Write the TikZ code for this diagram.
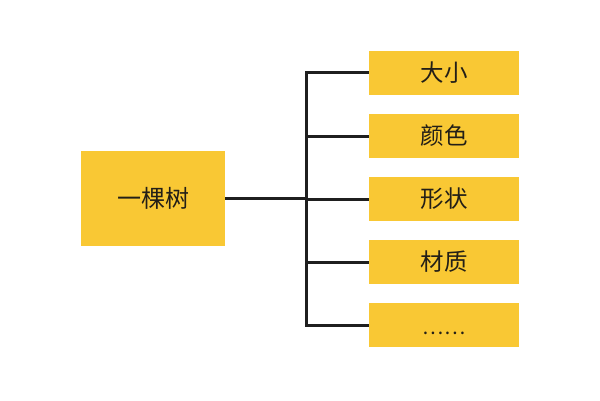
\documentclass[tikz,border=0pt]{standalone}
\usepackage{fontspec}
\newfontfamily\cjk{Noto Sans CJK SC}
\definecolor{boxyellow}{HTML}{F9C834}
\definecolor{txt}{HTML}{231F17}
\tikzset{
  box/.style={fill=boxyellow, draw=none, inner sep=0pt, font=\cjk, text=txt},
  mainbox/.style={box, minimum width=144pt, minimum height=95pt, font=\cjk\fontsize{24}{28}\selectfont},
  itembox/.style={box, minimum width=150pt, minimum height=44pt, font=\cjk\fontsize{23.5}{26}\selectfont},
  link/.style={draw=black!88, line width=3pt}
}
\begin{document}
\begin{tikzpicture}[x=1pt,y=1pt]
\useasboundingbox (0,0) rectangle (600,-400);
\node[mainbox] (main) at (153,-198.5) {一棵树};
\node[itembox] (b1) at (444,-72.5) {大小};
\node[itembox] (b2) at (444,-136) {颜色};
\node[itembox] (b3) at (444,-199) {形状};
\node[itembox] (b4) at (444,-262) {材质};
\node[itembox, font=\cjk\fontsize{20}{24}\selectfont, text height=20pt, text depth=3pt] (b5) at (444,-325) {\raisebox{-0.5pt}{……}};
\coordinate (spine) at (306,0);
\draw[link] (main.east) -- (main.east -| spine);
\draw[link, line cap=rect] (b1.west -| spine) -- (b5.west -| spine);
\foreach \b in {b1,b2,b3,b4,b5}{
  \draw[link] (\b.west -| spine) -- (\b.west);
}
\end{tikzpicture}
\end{document}
